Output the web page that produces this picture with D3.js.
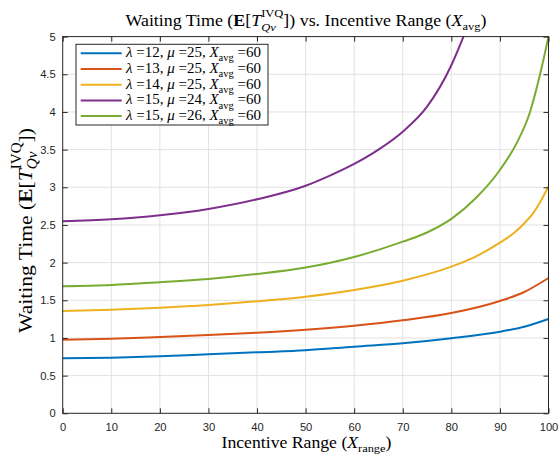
<!DOCTYPE html>
<html><head><meta charset="utf-8">
<script src="https://cdn.jsdelivr.net/npm/d3@7"></script>
<style>body{margin:0;background:#fff}svg{display:block}</style>
</head><body><svg id="c" width="560" height="456"></svg>
<script>
// ---------- data ----------
const xTicks = [0,10,20,30,40,50,60,70,80,90,100];
const yTicks = [0,0.5,1,1.5,2,2.5,3,3.5,4,4.5,5];
const yTickLabels = ["0","0.5","1","1.5","2","2.5","3","3.5","4","4.5","5"];
const legendLambda = [12,13,14,15,15];
const legendMu = [25,25,25,24,26];
const legendXavg = [60,60,60,60,60];
const seriesColors = ["#0072BD","#D95319","#EDB120","#7E2F8E","#77AC30"];

const xBlue   = [0,10,20,30,40,50,60,70,80,90,95,100];
const yBlue   = [0.730,0.738,0.757,0.783,0.810,0.836,0.884,0.929,0.996,1.083,1.150,1.252];
const xRed    = [0,10,20,30,40,50,60,70,80,90,95,100];
const yRed    = [0.977,0.990,1.013,1.039,1.070,1.110,1.163,1.234,1.331,1.491,1.610,1.796];
const xYellow = [0,10,20,30,40,50,60,70,80,85,90,93,95,97,100];
const yYellow = [1.358,1.375,1.402,1.438,1.487,1.548,1.637,1.760,1.946,2.080,2.265,2.400,2.520,2.670,3.010];
const xPurple = [0,10,20,30,40,50,55,60,65,70,75,80,82.5];
const yPurple = [2.549,2.575,2.628,2.712,2.840,3.020,3.155,3.310,3.500,3.738,4.070,4.620,5.000];
const xGreen  = [0,10,20,30,40,50,60,70,75,80,85,90,93.4,96.2,98.3,100];
const yGreen  = [1.686,1.703,1.739,1.783,1.849,1.935,2.075,2.278,2.400,2.580,2.854,3.230,3.580,4.000,4.510,5.000];

const seriesX = [xBlue,xRed,xYellow,xPurple,xGreen];
const seriesY = [yBlue,yRed,yYellow,yPurple,yGreen];

// ---------- layout ----------
const L=62.7, R=548.5, T=36.6, B=413.3;
const svg = d3.select("#c");
const x = d3.scaleLinear().domain([0,100]).range([L,R]);
const y = d3.scaleLinear().domain([0,5]).range([B,T]);
const axisColor = "#262626";
const serif = "'Liberation Serif','DejaVu Serif',serif";
const sans = "'Liberation Sans',Arial,sans-serif";
const STRETCH = 1.1; // Computer-Modern-like width relative to Times metrics

// grid
const grid = svg.append("g");
grid.selectAll("line.gx").data(xTicks.slice(1,-1)).join("line")
  .attr("x1",d=>x(d)).attr("x2",d=>x(d)).attr("y1",T).attr("y2",B)
  .attr("stroke","#e2e2e2").attr("stroke-width",1);
grid.selectAll("line.gy").data(yTicks.slice(1,-1)).join("line")
  .attr("y1",d=>y(d)).attr("y2",d=>y(d)).attr("x1",L).attr("x2",R)
  .attr("stroke","#e2e2e2").attr("stroke-width",1);

// clip + lines
svg.append("clipPath").attr("id","clip").append("rect")
  .attr("x",L).attr("y",T).attr("width",R-L).attr("height",B-T);
const line = d3.line().x(d=>x(d[0])).y(d=>y(d[1])).curve(d3.curveMonotoneX);
const lines = svg.append("g").attr("clip-path","url(#clip)");
seriesX.forEach((xs,i)=>{
  const pts = xs.map((v,j)=>[v,seriesY[i][j]]);
  lines.append("path").datum(pts).attr("d",line)
    .attr("fill","none").attr("stroke",seriesColors[i]).attr("stroke-width",2);
});

// axes
function styleAxis(g){
  g.select(".domain").remove();
  g.selectAll(".tick line").attr("stroke",axisColor);
  g.selectAll(".tick text").attr("fill",axisColor).attr("font-family",sans).attr("font-size",11.2);
}
svg.append("g").attr("transform",`translate(0,${B})`)
  .call(d3.axisBottom(x).tickValues(xTicks).tickSize(-5).tickPadding(10).tickFormat(d3.format("d")))
  .call(styleAxis);
svg.append("g").attr("transform",`translate(0,${T})`)
  .call(d3.axisTop(x).tickValues(xTicks).tickSize(-5).tickFormat(""))
  .call(styleAxis);
svg.append("g").attr("transform",`translate(${L},0)`)
  .call(d3.axisLeft(y).tickValues(yTicks).tickSize(-5).tickPadding(7).tickFormat((d,i)=>yTickLabels[i]))
  .call(styleAxis);
svg.append("g").attr("transform",`translate(${R},0)`)
  .call(d3.axisRight(y).tickValues(yTicks).tickSize(-5).tickFormat(""))
  .call(styleAxis);
svg.append("rect").attr("x",L).attr("y",T).attr("width",R-L).attr("height",B-T)
  .attr("fill","none").attr("stroke",axisColor).attr("stroke-width",1);

// ---------- rich text helper ----------
function rich(textSel, parts, base){
  textSel.selectAll("tspan").remove();
  let cur=0, prev=null;
  parts.forEach(p=>{
    const off=(p.o||0)*base;
    const ts=textSel.append("tspan").text(p.t).attr("dy",off-cur);
    cur=off;
    ts.attr("font-size",(p.s||1)*base);
    if(p.i) ts.attr("font-style","italic");
    if(p.b) ts.attr("font-weight","bold");
    if(p.stack && prev) ts.attr("dx",-prev.getComputedTextLength());
    prev=ts.node();
  });
}
// place text in group translated to (px,py), rotated, stretched horizontally
function label(parent, parts, opts){
  const g = parent.append("g")
    .attr("transform",`translate(${opts.x},${opts.y}) rotate(${opts.rot||0}) scale(${STRETCH},1)`);
  const t = g.append("text").attr("text-anchor",opts.anchor||"middle")
    .attr("font-family",serif).attr("fill","#000");
  let base = opts.base;
  if(opts.target){
    rich(t, parts, 14);
    const bb = t.node().getBBox();
    base = 14*opts.target/(bb.width*STRETCH);
  }
  rich(t, parts, base);
  return base;
}

const ylabParts = [
  {t:"Waiting Time ("},{t:"E",b:1},{t:"["},{t:"T",i:1},
  {t:"Qv",i:1,s:0.7,o:0.3},{t:"IVQ",s:0.7,o:-0.55,stack:1},{t:"])",o:0}
];
const titleParts = ylabParts.concat([
  {t:" vs. Incentive Range ("},{t:"X",i:1},{t:"avg",s:0.7,o:0.25},{t:")",o:0}
]);
const xlabParts = [
  {t:"Incentive Range ("},{t:"X",i:1},{t:"range",s:0.7,o:0.25},{t:")",o:0}
];

label(svg, titleParts, {x:306, y:26, target:361});
label(svg, xlabParts, {x:306.5, y:447.5, target:170});
label(svg, ylabParts, {x:31.5, y:230.5, rot:-90, target:205});

// ---------- legend ----------
const lg = svg.append("g");
lg.append("rect").attr("x",76).attr("y",44.3).attr("width",192).attr("height",80.7)
  .attr("fill","#fff").attr("stroke",axisColor).attr("stroke-width",1);
let legBase=null;
legendLambda.forEach((lam,i)=>{
  const cy = 53.3 + i*15.7;
  lg.append("line").attr("x1",80.7).attr("x2",121.7).attr("y1",cy).attr("y2",cy)
    .attr("stroke",seriesColors[i]).attr("stroke-width",2);
  const parts=[{t:"λ",i:1},{t:" =" + lam + ", "},{t:"μ",i:1},{t:" =" + legendMu[i] + ", "},
    {t:"X",i:1},{t:"avg",s:0.7,o:0.3},{t:" =" + legendXavg[i],o:0}];
  const opts = {x:126, y:cy+4, anchor:"start"};
  if(legBase===null){ opts.target=136; legBase = label(lg, parts, opts); }
  else { opts.base=legBase; label(lg, parts, opts); }
});
</script>
</body></html>
